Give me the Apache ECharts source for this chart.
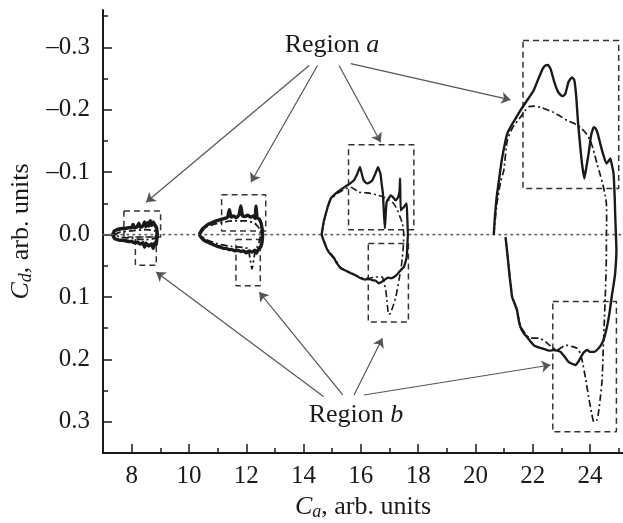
<!DOCTYPE html>
<html>
<head>
<meta charset="utf-8">
<script src="https://cdn.jsdelivr.net/npm/echarts@6/dist/echarts.min.js"></script>
<style>html,body{margin:0;padding:0;background:#fff}#c{width:623px;height:523px}</style>
</head>
<body>
<div id="c"></div>
<script>
// ---- tick values ----
const xMajorTicks = [8, 10, 12, 14, 16, 18, 20, 22, 24];
const xMinorTicks = [9, 11, 13, 15, 17, 19, 21, 23, 25];
const yMajorTicks = [-0.3, -0.2, -0.1, 0, 0.1, 0.2, 0.3];
const yMinorTicks = [-0.35, -0.25, -0.15, -0.05, 0.05, 0.15, 0.25];

// ---- loop 1 (Ca ~ 8) ----
const loop1Solid = [[7.34,0],[7.40,-0.006],[7.5,-0.008],[7.6,-0.009],[7.7,-0.010],[7.8,-0.010],[7.9,-0.011],[8.0,-0.011],[8.05,-0.016],[8.1,-0.011],[8.2,-0.013],[8.25,-0.018],[8.3,-0.012],[8.4,-0.014],[8.45,-0.020],[8.5,-0.013],[8.55,-0.019],[8.6,-0.014],[8.65,-0.022],[8.7,-0.015],[8.75,-0.020],[8.8,-0.016],[8.86,-0.012],[8.89,0],[8.87,0.010],[8.85,0.016],[8.8,0.014],[8.75,0.022],[8.7,0.015],[8.6,0.018],[8.5,0.014],[8.45,0.020],[8.4,0.013],[8.3,0.015],[8.2,0.012],[8.1,0.013],[8.0,0.011],[7.9,0.011],[7.8,0.010],[7.7,0.009],[7.6,0.009],[7.5,0.008],[7.4,0.006],[7.34,0]];
const loop1Dash = [[7.4,0],[7.6,-0.004],[8.0,-0.006],[8.5,-0.008],[8.8,-0.006],[8.85,0],[8.8,0.006],[8.5,0.008],[8.0,0.006],[7.6,0.004],[7.4,0]];

// ---- loop 2 (Ca ~ 11.5) ----
const loop2Solid = [[10.36,0],[10.45,-0.008],[10.55,-0.012],[10.65,-0.016],[10.8,-0.019],[10.95,-0.022],[11.1,-0.024],[11.25,-0.026],[11.35,-0.028],[11.41,-0.040],[11.47,-0.028],[11.55,-0.030],[11.65,-0.027],[11.75,-0.032],[11.81,-0.046],[11.87,-0.030],[11.95,-0.029],[12.05,-0.031],[12.15,-0.028],[12.25,-0.030],[12.31,-0.026],[12.34,-0.046],[12.38,-0.027],[12.45,-0.025],[12.52,-0.018],[12.57,0],[12.55,0.012],[12.5,0.020],[12.42,0.024],[12.35,0.030],[12.3,0.025],[12.2,0.028],[12.1,0.026],[12.0,0.029],[11.9,0.026],[11.8,0.027],[11.7,0.025],[11.6,0.026],[11.5,0.024],[11.4,0.024],[11.3,0.022],[11.2,0.022],[11.1,0.020],[11.0,0.019],[10.9,0.017],[10.8,0.015],[10.7,0.013],[10.6,0.011],[10.5,0.008],[10.42,0.004],[10.36,0]];
const loop2Dash = [[10.36,0],[10.6,-0.012],[11.0,-0.018],[11.5,-0.022],[12.0,-0.022],[12.3,-0.018],[12.45,-0.010],[12.5,0],[12.45,0.012],[12.3,0.030],[12.2,0.055],[12.12,0.035],[12.05,0.022],[11.5,0.019],[11.0,0.015],[10.6,0.008],[10.36,0]];

// ---- loop 3 (Ca ~ 16) ----
const loop3Solid = [[14.63,0],[14.7,-0.02],[14.78,-0.034],[14.86,-0.047],[14.95,-0.058],[15.05,-0.063],[15.18,-0.068],[15.3,-0.072],[15.42,-0.076],[15.53,-0.079],[15.65,-0.083],[15.76,-0.087],[15.83,-0.093],[15.88,-0.098],[15.97,-0.108],[16.03,-0.098],[16.09,-0.088],[16.15,-0.084],[16.23,-0.082],[16.32,-0.084],[16.40,-0.087],[16.5,-0.097],[16.6,-0.108],[16.65,-0.102],[16.69,-0.096],[16.73,-0.08],[16.77,-0.066],[16.81,-0.03],[16.84,-0.01],[16.87,-0.035],[16.90,-0.052],[16.97,-0.058],[17.04,-0.063],[17.12,-0.06],[17.22,-0.055],[17.30,-0.06],[17.35,-0.07],[17.37,-0.09],[17.39,-0.039],[17.45,-0.042],[17.50,-0.044],[17.56,-0.048],[17.60,-0.05],[17.62,-0.028],[17.64,0],[17.62,0.02],[17.60,0.036],[17.55,0.045],[17.50,0.052],[17.39,0.057],[17.28,0.063],[17.16,0.068],[17.05,0.070],[16.95,0.069],[16.81,0.073],[16.72,0.076],[16.63,0.078],[16.52,0.074],[16.40,0.073],[16.28,0.071],[16.15,0.072],[15.99,0.070],[15.85,0.066],[15.65,0.062],[15.48,0.058],[15.30,0.054],[15.15,0.045],[15.07,0.038],[14.95,0.032],[14.84,0.025],[14.72,0.012],[14.63,0]];
const loop3Dash = [[14.63,0],[14.78,-0.034],[14.95,-0.056],[15.18,-0.066],[15.4,-0.072],[15.65,-0.076],[15.94,-0.068],[16.15,-0.067],[16.35,-0.066],[16.6,-0.063],[16.81,-0.060],[16.95,-0.056],[17.10,-0.052],[17.2,-0.046],[17.28,-0.039],[17.37,-0.028],[17.45,-0.018],[17.50,0],[17.48,0.02],[17.45,0.036],[17.40,0.055],[17.33,0.073],[17.27,0.088],[17.22,0.10],[17.12,0.115],[17.04,0.126],[16.98,0.128],[16.95,0.124],[16.91,0.105],[16.87,0.089],[16.80,0.075],[16.75,0.068],[16.60,0.068],[16.46,0.068],[16.28,0.070],[15.99,0.069],[15.65,0.061],[15.30,0.053],[15.07,0.037],[14.84,0.024],[14.63,0]];

// ---- loop 4 (Ca ~ 22.5) ----
const loop4Solid = [[20.64,0],[20.68,-0.03],[20.74,-0.06],[20.82,-0.087],[20.92,-0.12],[21.05,-0.151],[21.12,-0.163],[21.22,-0.172],[21.4,-0.186],[21.57,-0.199],[21.8,-0.215],[22.03,-0.231],[22.2,-0.25],[22.35,-0.266],[22.44,-0.271],[22.53,-0.272],[22.62,-0.266],[22.75,-0.245],[22.87,-0.230],[22.97,-0.224],[23.06,-0.222],[23.14,-0.226],[23.25,-0.245],[23.37,-0.252],[23.45,-0.248],[23.52,-0.22],[23.58,-0.18],[23.66,-0.140],[23.73,-0.11],[23.80,-0.090],[23.86,-0.105],[23.95,-0.130],[24.04,-0.160],[24.13,-0.172],[24.2,-0.170],[24.28,-0.160],[24.36,-0.145],[24.45,-0.13],[24.57,-0.114],[24.65,-0.118],[24.71,-0.122],[24.77,-0.11],[24.82,-0.098],[24.86,-0.06],[24.88,-0.028],[24.92,0.025],[24.88,0.06],[24.83,0.078],[24.77,0.095],[24.68,0.125],[24.59,0.148],[24.47,0.169],[24.38,0.177],[24.30,0.182],[24.15,0.188],[24.01,0.188],[23.90,0.185],[23.80,0.188],[23.72,0.193],[23.6,0.203],[23.49,0.209],[23.37,0.207],[23.25,0.204],[23.1,0.195],[22.97,0.188],[22.85,0.186],[22.73,0.185],[22.6,0.186],[22.50,0.185],[22.3,0.182],[22.15,0.180],[22.03,0.177],[21.9,0.17],[21.8,0.164],[21.68,0.158],[21.57,0.148],[21.5,0.135],[21.45,0.121],[21.38,0.112],[21.28,0.100],[21.24,0.085],[21.2,0.07],[21.16,0.052],[21.1,0.025],[21.05,0.004]];
const loop4Dash = [[20.64,0],[20.75,-0.05],[20.88,-0.085],[20.99,-0.103],[21.11,-0.151],[21.3,-0.172],[21.57,-0.188],[21.72,-0.198],[21.86,-0.205],[22.05,-0.206],[22.27,-0.204],[22.5,-0.200],[22.73,-0.196],[22.95,-0.19],[23.20,-0.183],[23.45,-0.178],[23.66,-0.172],[23.85,-0.163],[24.01,-0.151],[24.12,-0.135],[24.24,-0.114],[24.36,-0.095],[24.47,-0.076],[24.53,-0.062],[24.57,-0.050],[24.58,-0.02],[24.57,0],[24.57,0.03],[24.56,0.057],[24.53,0.1],[24.50,0.137],[24.46,0.185],[24.42,0.233],[24.35,0.265],[24.28,0.29],[24.24,0.297],[24.13,0.300],[24.05,0.285],[23.95,0.260],[23.85,0.232],[23.72,0.201],[23.62,0.186],[23.55,0.182],[23.35,0.179],[23.14,0.177],[23.0,0.181],[22.85,0.185],[22.6,0.178],[22.4,0.17],[22.21,0.166],[21.92,0.166],[21.8,0.162],[21.57,0.147],[21.45,0.12],[21.28,0.099],[21.16,0.05],[21.05,0.004]];

// ---- zero reference line ----
const zeroLine = [[7, 0], [25.15, 0]];

// ---- dashed region boxes [x1, y1, x2, y2] ----
const regionABoxes = [[7.73,-0.038,9.01,0.004],[11.14,-0.064,12.68,-0.006],[15.57,-0.144,17.85,-0.008],[21.66,-0.311,25.0,-0.074]];
const regionBBoxes = [[8.13,0.004,8.86,0.049],[11.64,0.008,12.49,0.082],[16.26,0.0144,17.66,0.140],[22.70,0.107,24.92,0.316]];

// ---- annotation arrows [from, to] ----
const arrowsA = [[[14.195,-0.271],[8.505,-0.052]],[[14.488,-0.271],[12.164,-0.084]],[[15.24,-0.271],[16.693,-0.148]],[[15.648,-0.274],[21.223,-0.216]]];
const arrowsB = [[[14.707,0.260],[8.854,0.060]],[[15.369,0.257],[12.453,0.092]],[[15.763,0.257],[16.753,0.166]],[[16.111,0.257],[22.62,0.209]]];

const FONT = '"Liberation Serif", "DejaVu Serif", serif';
const INK = '#1a1a1a';

function boxPath(b) {
  return [[b[0],b[1]],[b[2],b[1]],[b[2],b[3]],[b[0],b[3]],[b[0],b[1]]];
}
function fmtY(v) {
  const s = Math.abs(v).toFixed(1);
  return v < -1e-9 ? '\u2013' + s : s;
}

const series = [];
series.push({type:'line', data: zeroLine, showSymbol:false, silent:true,
  lineStyle:{color:'#666', width:1.6, type:[1.6,4.4], cap:'round'}, z:1});

function addLoop(data, width, dash) {
  series.push({type:'line', data: data, showSymbol:false, smooth:0.15, silent:true,
    lineStyle:{color:INK, width:width, type: dash ? [7,3,2,3] : 'solid', join:'round'}, z: dash ? 3 : 4});
}
addLoop(loop1Dash, 1.8, true);
addLoop(loop1Solid, 3.6, false);
addLoop(loop2Dash, 1.8, true);
addLoop(loop2Solid, 3.4, false);
addLoop(loop3Dash, 1.6, true);
addLoop(loop3Solid, 2.3, false);
addLoop(loop4Dash, 1.7, true);
addLoop(loop4Solid, 2.4, false);

regionABoxes.concat(regionBBoxes).forEach(function (b) {
  series.push({type:'line', data: boxPath(b), showSymbol:false, silent:true,
    lineStyle:{color:'#333', width:1.5, type:[6,4]}, z:2});
});

series.push({type:'lines', coordinateSystem:'cartesian2d', silent:true,
  data: arrowsA.concat(arrowsB).map(function (a) { return {coords: a}; }),
  symbol:['none','arrow'], symbolSize:[0,9],
  lineStyle:{color:'#555', width:1.2, opacity:1, curveness:0}, z:5});

const chart = echarts.init(document.getElementById('c'), null, {renderer:'canvas'});
chart.setOption({
  animation:false,
  backgroundColor:'#fff',
  grid:{left:103, right:0, top:10, bottom:70, containLabel:false, outerBoundsMode:'none'},
  xAxis:[{
    type:'value', min:7, max:25.15, position:'bottom',
    name:'{c|C}{s|a}{n|, arb. units}', nameLocation:'middle', nameGap:37,
    nameTextStyle:{rich:{
      c:{fontFamily:FONT, fontSize:26, fontStyle:'italic', color:INK},
      s:{fontFamily:FONT, fontSize:18, fontStyle:'italic', color:INK, padding:[11,0,0,0]},
      n:{fontFamily:FONT, fontSize:26, color:INK}}},
    axisLine:{show:true, onZero:false, lineStyle:{color:INK, width:2}},
    axisTick:{show:true, inside:true, length:9, customValues:xMajorTicks, lineStyle:{color:INK, width:1.5}},
    axisLabel:{show:true, customValues:xMajorTicks, margin:11, fontFamily:FONT, fontSize:25, color:INK},
    splitLine:{show:false}
  },{
    type:'value', min:7, max:25.15, position:'bottom',
    axisLine:{show:false, onZero:false},
    axisTick:{show:true, inside:true, length:5, customValues:xMinorTicks, lineStyle:{color:INK, width:1.5}},
    axisLabel:{show:false}, splitLine:{show:false}
  }],
  yAxis:[{
    type:'value', min:-0.36, max:0.35, inverse:true, position:'left',
    name:'{c|C}{s|d}{n|, arb. units}', nameLocation:'middle', nameGap:64, nameRotate:90,
    nameTextStyle:{rich:{
      c:{fontFamily:FONT, fontSize:26, fontStyle:'italic', color:INK},
      s:{fontFamily:FONT, fontSize:18, fontStyle:'italic', color:INK, padding:[11,0,0,0]},
      n:{fontFamily:FONT, fontSize:26, color:INK}}},
    axisLine:{show:true, onZero:false, lineStyle:{color:INK, width:2}},
    axisTick:{show:true, inside:true, length:9, customValues:yMajorTicks, lineStyle:{color:INK, width:1.5}},
    axisLabel:{show:true, customValues:yMajorTicks, margin:13, fontFamily:FONT, fontSize:25, color:INK, formatter:fmtY},
    splitLine:{show:false}
  },{
    type:'value', min:-0.36, max:0.35, inverse:true, position:'left',
    axisLine:{show:false, onZero:false},
    axisTick:{show:true, inside:true, length:5, customValues:yMinorTicks, lineStyle:{color:INK, width:1.5}},
    axisLabel:{show:false}, splitLine:{show:false}
  }],
  graphic:[
    {type:'text', x:332, y:58, style:{text:'{n|Region }{i|a}', textAlign:'center', textVerticalAlign:'bottom',
      rich:{n:{fontFamily:FONT, fontSize:26, fill:INK}, i:{fontFamily:FONT, fontSize:26, fontStyle:'italic', fill:INK}}}},
    {type:'text', x:356, y:428, style:{text:'{n|Region }{i|b}', textAlign:'center', textVerticalAlign:'bottom',
      rich:{n:{fontFamily:FONT, fontSize:26, fill:INK}, i:{fontFamily:FONT, fontSize:26, fontStyle:'italic', fill:INK}}}}
  ],
  series: series
});
</script>
</body>
</html>
